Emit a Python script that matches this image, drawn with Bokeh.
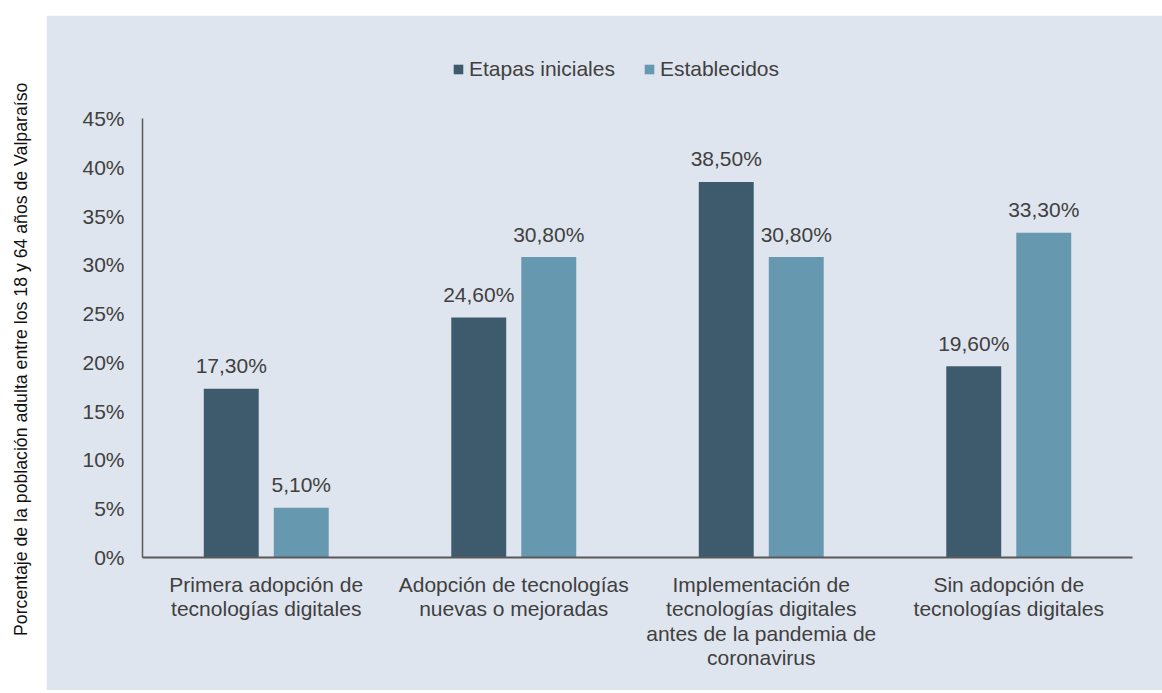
from bokeh.plotting import figure
from bokeh.models import (FactorRange, ColumnDataSource, Legend, LegendItem, FixedTicker,
                          PrintfTickFormatter, Label, Range1d, Spacer)
from bokeh.layouts import row, column
from bokeh.transform import dodge
from bokeh.embed import file_html
from bokeh.resources import INLINE
from bokeh.core.properties import value
import math

# ---- data ----
categories = [
    "Primera adopción de\ntecnologías digitales",
    "Adopción de tecnologías\nnuevas o mejoradas",
    "Implementación de\ntecnologías digitales\nantes de la pandemia de\ncoronavirus",
    "Sin adopción de\ntecnologías digitales",
]
series_names = ["Etapas iniciales", "Establecidos"]
etapas_iniciales = [17.3, 24.6, 38.5, 19.6]
establecidos = [5.1, 30.8, 30.8, 33.3]
y_ticks = [0, 5, 10, 15, 20, 25, 30, 35, 40, 45]
y_title = "Porcentaje de la población adulta entre los 18 y 64 años de Valparaíso"

# ---- style ----
FONT = "Liberation Sans"
PANEL = "#DFE5EE"
DARK = "#3E5B6D"
LIGHT = "#6699AF"
TEXT = "#404040"
AXIS = "#595959"

# ---- layout (pixels inside the main figure) ----
W, H = 1116, 675
FRAME_LEFT, FRAME_RIGHT_PAD = 96, 30
FRAME_TOP, FRAME_BOTTOM_PAD = 20, 133
AXIS_TOP = 103          # where the 45% tick sits
Y_MAX_TICK = y_ticks[-1]
frame_h = H - FRAME_TOP - FRAME_BOTTOM_PAD
y_end = Y_MAX_TICK * frame_h / (frame_h - (AXIS_TOP - FRAME_TOP))


def fmt(v):
    return f"{v:.2f}%".replace(".", ",")


src = ColumnDataSource(dict(
    cat=categories,
    a=etapas_iniciales,
    b=establecidos,
    a_lbl=[fmt(v) for v in etapas_iniciales],
    b_lbl=[fmt(v) for v in establecidos],
))

p = figure(
    x_range=FactorRange(*categories), y_range=Range1d(0, y_end),
    width=W, height=H, output_backend="svg", toolbar_location=None,
    min_border_left=FRAME_LEFT, min_border_right=FRAME_RIGHT_PAD,
    min_border_top=FRAME_TOP, min_border_bottom=FRAME_BOTTOM_PAD,
)
p.background_fill_color = PANEL
p.border_fill_color = PANEL
p.outline_line_color = PANEL
p.outline_line_width = 2
p.xgrid.visible = False
p.ygrid.visible = False

off = 0.1414
bw = 0.222
ra = p.vbar(x=dodge("cat", -off, range=p.x_range), top="a", width=bw, source=src,
            fill_color=DARK, line_color=None)
rb = p.vbar(x=dodge("cat", off, range=p.x_range), top="b", width=bw, source=src,
            fill_color=LIGHT, line_color=None)

for col, lbl, o in (("a", "a_lbl", -off), ("b", "b_lbl", off)):
    p.text(x=dodge("cat", o, range=p.x_range), y=col, text=lbl, source=src,
           text_align="center", text_baseline="alphabetic", y_offset=-23,
           text_font=value(FONT), text_font_size="21px", text_color=TEXT)

# y axis
yax = p.yaxis[0]
yax.ticker = FixedTicker(ticks=y_ticks)
yax.bounds = (0, Y_MAX_TICK)
yax.formatter = PrintfTickFormatter(format="%d%%")
yax.major_tick_line_color = None
yax.minor_tick_line_color = None
yax.major_label_standoff = 12
yax.major_label_text_font = FONT
yax.major_label_text_font_size = "21px"
yax.major_label_text_color = TEXT
yax.axis_line_color = AXIS
yax.axis_line_width = 1.5

# x axis
xax = p.xaxis[0]
xax.major_tick_line_color = None
xax.minor_tick_line_color = None
xax.major_label_standoff = 9
xax.major_label_text_font = FONT
xax.major_label_text_font_size = "21px"
xax.major_label_text_line_height = 1.07
xax.major_label_text_color = TEXT
xax.axis_line_color = AXIS
xax.axis_line_width = 2

legend = Legend(
    items=[LegendItem(label=series_names[0], renderers=[ra]),
           LegendItem(label=series_names[1], renderers=[rb])],
    location=(310, 476), orientation="horizontal",
    glyph_width=12, glyph_height=12, label_standoff=5, spacing=28,
    padding=0, margin=0, border_line_color=None, background_fill_alpha=0,
    label_text_font=FONT, label_text_font_size="21px", label_text_color=TEXT,
)
p.add_layout(legend)

# left white strip with the y-axis title
left = figure(width=46, height=690, output_backend="svg", toolbar_location=None,
              x_range=Range1d(0, 1), y_range=Range1d(0, 1),
              min_border=0, min_border_left=0, min_border_right=0,
              min_border_top=0, min_border_bottom=0)
left.axis.visible = False
left.grid.visible = False
left.outline_line_color = None
left.background_fill_color = "white"
left.border_fill_color = "white"
left.add_layout(Label(x=0.435, y=0.48, text=y_title, angle=math.pi / 2,
                      text_align="center", text_baseline="middle",
                      text_font=FONT, text_font_size="17.7px", text_color="#111111"))

layout = row(left, column(Spacer(height=15, width=W), p))

open("out.html", "w").write(file_html(layout, INLINE))
